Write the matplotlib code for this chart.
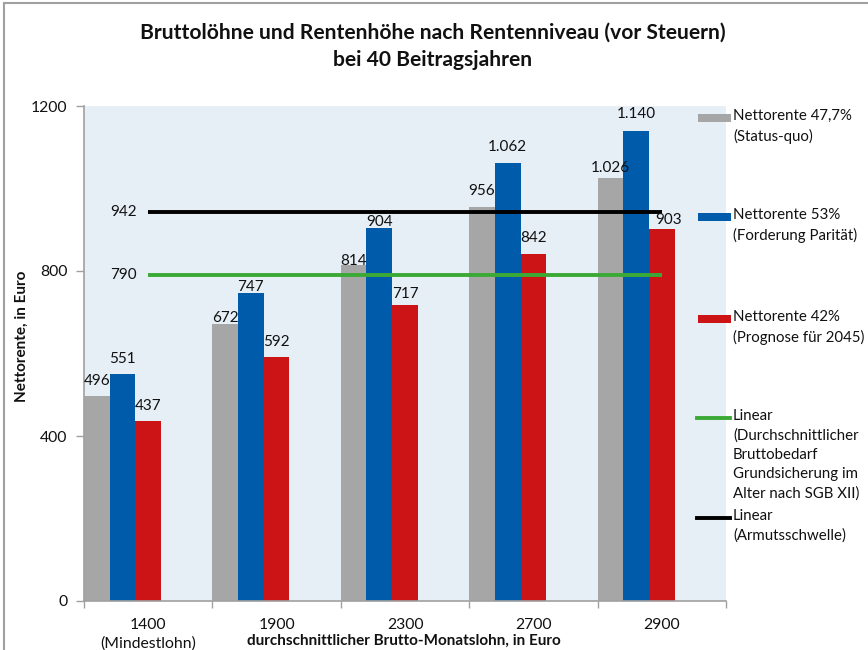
import matplotlib
matplotlib.use("Agg")
import matplotlib.pyplot as plt
from matplotlib.patches import Rectangle
from matplotlib.lines import Line2D

plt.rcParams['font.family'] = ['Lato', 'DejaVu Sans']

categories = ["1400\n(Mindestlohn)", "1900", "2300", "2700", "2900"]
status_quo = [496, 672, 814, 956, 1026]
paritaet = [551, 747, 904, 1062, 1140]
prognose = [437, 592, 717, 842, 903]
grundsicherung = [790, 790, 790, 790, 790]
armut = [942, 942, 942, 942, 942]
yticks = [0, 400, 800, 1200]

series_labels = ["Nettorente 47,7%\n(Status-quo)",
                 "Nettorente 53%\n(Forderung Parität)",
                 "Nettorente 42%\n(Prognose für 2045)",
                 "Linear\n(Durchschnittlicher\nBruttobedarf\nGrundsicherung im\nAlter nach SGB XII)",
                 "Linear\n(Armutsschwelle)"]

# label placement (pixels: gap from bar top to label centre, horizontal shift)
gap_gray = [17, 7, 6, 17, 11]
gap_blue = [16, 7, 8, 17, 18]
gap_red = [16, 16, 13, 17, 10]
dx_red = [0, 0, 0, 0, 7]
dx_none = [0, 0, 0, 0, 0]

GRAY = "#A6A6A6"
BLUE = "#005BAA"
RED = "#CC1417"
GREEN = "#3BAA35"
BG = "#E6EEF6"
AXC = "#A0A0A0"
TXT = "#111111"

W, H = 868, 650
fig = plt.figure(figsize=(W/100, H/100), dpi=100)

def fx(px):
    return px / W

def fy(py):
    return 1 - py / H

ax = fig.add_axes([fx(84), fy(601), fx(726) - fx(84), fy(106) - fy(601)])
ax.set_facecolor(BG)

x = list(range(len(categories)))
bw = 0.2
PT = 0.72  # points per pixel at 100 dpi
for vals, col, slot, gaps, dxs in [(status_quo, GRAY, 0, gap_gray, dx_none),
                                   (paritaet, BLUE, 1, gap_blue, dx_none),
                                   (prognose, RED, 2, gap_red, dx_red)]:
    pos = [xi + (slot - 2) * bw for xi in x]
    ax.bar(pos, vals, width=bw, color=col, zorder=2)
    for p, v, g, d in zip(pos, vals, gaps, dxs):
        ax.annotate(f"{v:,}".replace(",", "."), (p, v), xytext=(d * PT, (g - 5.5) * PT),
                    textcoords="offset points", ha="center", va="baseline",
                    fontsize=11, color=TXT, zorder=4)

ax.plot(x, armut, color="black", lw=2.8, zorder=3, solid_capstyle="butt")
ax.plot(x, grundsicherung, color=GREEN, lw=2.8, zorder=3, solid_capstyle="butt")
ax.annotate(str(armut[0]), (x[0], armut[0]), xytext=(-8, 0), textcoords="offset points",
            ha="right", va="center", fontsize=11, color=TXT)
ax.annotate(str(grundsicherung[0]), (x[0], grundsicherung[0]), xytext=(-8, 0),
            textcoords="offset points", ha="right", va="center", fontsize=11, color=TXT)

ax.set_xlim(-0.5, len(categories) - 0.5)
ax.set_ylim(0, 1200)
ax.set_yticks(yticks)
ax.set_yticklabels([str(t) for t in yticks], fontsize=11.3, color=TXT)
ax.set_xticks(x)
ax.set_xticklabels(categories, fontsize=11.3, color=TXT)
for t in ax.get_xticklabels():
    t.set_linespacing(1.38)
ax.tick_params(axis="x", length=0, pad=12)
ax.set_xticks([xi - 0.5 for xi in x] + [len(x) - 0.5], minor=True)
ax.tick_params(axis="x", which="minor", length=5, color=AXC, width=1)
ax.tick_params(axis="y", length=6, color=AXC, width=1, pad=6)
for s in ["top", "right"]:
    ax.spines[s].set_visible(False)
for s in ["left", "bottom"]:
    ax.spines[s].set_color(AXC)
    ax.spines[s].set_linewidth(1.2)

fig.text(fx(22), fy(336), "Nettorente, in Euro", rotation=90, ha="center", va="center",
         fontsize=11, fontweight="bold", color=TXT)
fig.text(fx(404), fy(641), "durchschnittlicher Brutto-Monatslohn, in Euro",
         ha="center", va="center", fontsize=11, fontweight="bold", color=TXT)

fig.text(fx(433), fy(33), "Bruttolöhne und Rentenhöhe nach Rentenniveau (vor Steuern)",
         ha="center", va="center", fontsize=15.1, fontweight="bold", color=TXT)
fig.text(fx(433), fy(60), "bei 40 Beitragsjahren",
         ha="center", va="center", fontsize=15.1, fontweight="bold", color=TXT)

# legend (manual)
leg_items = [("patch", GRAY, 118), ("patch", BLUE, 217), ("patch", RED, 319),
             ("line", GREEN, 418), ("line", "black", 518)]
for (kind, col, py), lab in zip(leg_items, series_labels):
    if kind == "patch":
        fig.add_artist(Rectangle((fx(698), fy(py + 4)), fx(731) - fx(698), fy(py - 4) - fy(py + 4),
                                 transform=fig.transFigure, color=col, lw=0))
    else:
        fig.add_artist(Line2D([fx(697), fx(730)], [fy(py), fy(py)], transform=fig.transFigure,
                              color=col, lw=2.8))
    fig.text(fx(733), fy(py - 9), lab, ha="left", va="top", fontsize=10.8, color=TXT,
             linespacing=1.48, transform=fig.transFigure)

# chart border
fig.add_artist(Line2D([fx(4), fx(W)], [fy(3), fy(3)], transform=fig.transFigure, color="#A0A0A0", lw=1.5))
fig.add_artist(Line2D([fx(4), fx(4)], [fy(3), fy(H)], transform=fig.transFigure, color="#A0A0A0", lw=1.5))

fig.savefig("out.png", dpi=100)
